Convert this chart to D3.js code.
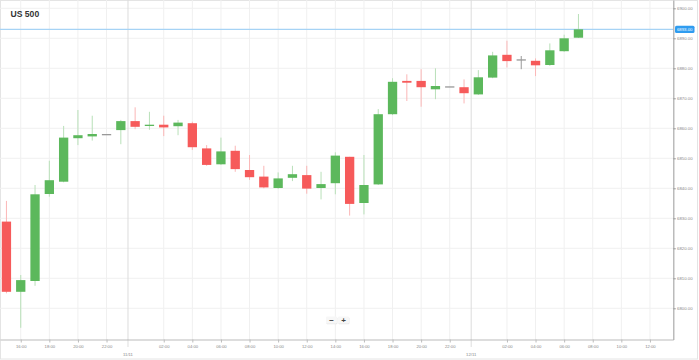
<!DOCTYPE html>
<html><head><meta charset="utf-8">
<script src="https://cdn.jsdelivr.net/npm/d3@7"></script>
<style>
html,body{margin:0;padding:0;background:#fff;}
svg{display:block;font-family:"Liberation Sans",Arial,sans-serif;}
</style></head><body>
<svg id="c" width="699" height="360"></svg>
<script>
const title = "US 500";
const times = [
 "2025-11-10T15:00","2025-11-10T16:00","2025-11-10T17:00","2025-11-10T18:00","2025-11-10T19:00",
 "2025-11-10T20:00","2025-11-10T21:00","2025-11-10T22:00","2025-11-10T23:00",
 "2025-11-11T00:00","2025-11-11T01:00","2025-11-11T02:00","2025-11-11T03:00","2025-11-11T04:00",
 "2025-11-11T05:00","2025-11-11T06:00","2025-11-11T07:00","2025-11-11T08:00","2025-11-11T09:00",
 "2025-11-11T10:00","2025-11-11T11:00","2025-11-11T12:00","2025-11-11T13:00","2025-11-11T14:00",
 "2025-11-11T15:00","2025-11-11T16:00","2025-11-11T17:00","2025-11-11T18:00","2025-11-11T19:00",
 "2025-11-11T20:00","2025-11-11T21:00","2025-11-11T22:00","2025-11-11T23:00",
 "2025-11-12T00:00","2025-11-12T01:00","2025-11-12T02:00","2025-11-12T03:00","2025-11-12T04:00",
 "2025-11-12T05:00","2025-11-12T06:00","2025-11-12T07:00"
];
const open  = [6828.9,6805.5,6809.1,6838.1,6842.2,6856.7,6857.3,6858.1,6859.4,
               6862.4,6860.8,6861.2,6860.7,6861.7,6853.3,6848.0,6852.5,6846.1,6843.9,6840.1,6843.5,6844.4,6840.1,6841.7,
               6850.5,6835.1,6841.3,6864.7,6875.8,6875.8,6873.0,6874.0,6873.7,
               6871.3,6876.9,6884.5,6883.0,6882.5,6881.1,6885.7,6890.2];
const high  = [6835.8,6811.1,6841.1,6849.2,6860.8,6866.1,6864.2,6858.1,6862.8,
               6867.0,6865.5,6864.2,6862.8,6862.2,6854.4,6856.9,6854.2,6851.1,6847.5,6845.3,6847.5,6847.5,6845.5,6852.0,
               6850.5,6851.1,6866.4,6876.7,6878.0,6879.7,6880.0,6874.0,6876.3,
               6879.4,6885.5,6889.2,6884.1,6883.3,6888.3,6891.2,6898.1];
const low   = [6805.0,6793.5,6807.5,6837.2,6842.0,6854.4,6855.9,6858.1,6854.7,
               6859.7,6859.5,6857.4,6857.7,6852.8,6847.5,6847.8,6845.5,6842.8,6840.0,6839.8,6842.4,6838.2,6836.3,6838.0,
               6830.9,6831.3,6841.1,6864.4,6869.1,6867.2,6869.7,6874.0,6868.3,
               6871.1,6876.7,6880.3,6879.7,6877.4,6880.8,6885.5,6890.1];
const close = [6805.5,6809.4,6838.0,6842.7,6856.9,6857.7,6858.1,6858.1,6862.4,
               6860.5,6861.2,6860.3,6861.9,6853.7,6847.8,6852.3,6846.4,6843.7,6840.3,6843.3,6844.7,6839.9,6841.4,6850.9,
               6834.8,6841.1,6864.7,6875.5,6875.2,6873.7,6874.1,6874.0,6871.7,
               6877.0,6884.3,6882.4,6883.0,6881.0,6886.0,6890.0,6893.0];
const xTicks = ["2025-11-10T16:00","2025-11-10T18:00","2025-11-10T20:00","2025-11-10T22:00",
 "2025-11-11T02:00","2025-11-11T04:00","2025-11-11T06:00","2025-11-11T08:00","2025-11-11T10:00","2025-11-11T12:00","2025-11-11T14:00",
 "2025-11-11T16:00","2025-11-11T18:00","2025-11-11T20:00","2025-11-11T22:00",
 "2025-11-12T02:00","2025-11-12T04:00","2025-11-12T06:00","2025-11-12T08:00","2025-11-12T10:00","2025-11-12T12:00"];
const dayDividers = ["2025-11-10T23:30","2025-11-11T23:30"];
const dayLabels = ["11/11","12/11"];
const yTicks = [6800,6810,6820,6830,6840,6850,6860,6870,6880,6890,6900];
const lastPrice = 6893.0;
const xDomain = ["2025-11-10T14:33","2025-11-12T13:38"];
const yDomain = [6789.6, 6902.77];

const parse = d3.timeParse("%Y-%m-%dT%H:%M");
const svg = d3.select("#c");
const W = 699, H = 360;
const plotR = 673.3, plotB = 339.5;

const x = d3.scaleTime().domain(xDomain.map(parse)).range([0, plotR]);
const y = d3.scaleLinear().domain(yDomain).range([plotB, 0]);

// frame
svg.append("rect").attr("x",0.5).attr("y",0.5).attr("width",697).attr("height",358.5)
  .attr("fill","#fff").attr("stroke","#e4e4e4");

// grid
const g = svg.append("g");
g.selectAll("line.vg").data(xTicks.map(parse)).join("line")
  .attr("x1",d=>x(d)).attr("x2",d=>x(d)).attr("y1",0).attr("y2",plotB)
  .attr("stroke","#f0f0f0").attr("stroke-width",1);
g.selectAll("line.hg").data(yTicks).join("line")
  .attr("x1",0).attr("x2",plotR).attr("y1",d=>y(d)).attr("y2",d=>y(d))
  .attr("stroke","#f0f0f0").attr("stroke-width",1);
g.selectAll("line.dd").data(dayDividers.map(parse)).join("line")
  .attr("x1",d=>x(d)).attr("x2",d=>x(d)).attr("y1",0).attr("y2",plotB)
  .attr("stroke","#dcdcdc").attr("stroke-width",1);

// current price line
svg.append("line").attr("x1",0).attr("x2",plotR).attr("y1",y(lastPrice)).attr("y2",y(lastPrice))
  .attr("stroke","#a6d3f5").attr("stroke-width",1.2);

// candles
const data = times.map((t,i)=>({t:parse(t),o:open[i],h:high[i],l:low[i],c:close[i]}));
const bw = 9.3;
const col = d => d.c > d.o ? "#5cb85c" : (d.c < d.o ? "#f65a5a" : "#999");
const wcol = d => d.c > d.o ? "#b8e0b8" : (d.c < d.o ? "#fbb6b6" : "#999");
const cg = svg.append("g");
cg.selectAll("line.w").data(data).join("line")
  .attr("x1",d=>x(d.t)).attr("x2",d=>x(d.t)).attr("y1",d=>y(d.h)).attr("y2",d=>y(d.l))
  .attr("stroke",wcol).attr("stroke-width",1);
cg.selectAll("rect.b").data(data).join("rect")
  .attr("x",d=>x(d.t)-bw/2).attr("width",bw)
  .attr("y",d=>y(Math.max(d.o,d.c)))
  .attr("height",d=>Math.max(1.3, Math.abs(y(d.o)-y(d.c))))
  .attr("fill",col).attr("stroke",d=>d.c===d.o?"none":col).attr("stroke-opacity",0.6).attr("stroke-width",0.6);

// x axis
const xa = svg.append("g").attr("transform",`translate(0,${plotB})`)
  .call(d3.axisBottom(x).tickValues(xTicks.map(parse)).tickFormat(d3.timeFormat("%H:%M")).tickSize(3).tickSizeOuter(0).tickPadding(2.5));
xa.select(".domain").attr("stroke","#bbb");
xa.selectAll(".tick line").attr("stroke","#bbb");
xa.selectAll("text").attr("font-size",4.2).attr("fill","#888").attr("font-family","'Liberation Sans',Arial,sans-serif");
// day labels
const dl = svg.append("g");
dayDividers.forEach((d,i)=>{
  const px = x(parse(d));
  dl.append("line").attr("x1",px).attr("x2",px).attr("y1",plotB).attr("y2",plotB+8)
    .attr("stroke","#bbb").attr("stroke-dasharray","1,1");
  dl.append("text").attr("x",px).attr("y",plotB+16).attr("text-anchor","middle")
    .attr("font-size",4.2).attr("fill","#888").text(dayLabels[i]);
});

// y axis
const ya = svg.append("g").attr("transform",`translate(${plotR},0)`)
  .call(d3.axisRight(y).tickValues(yTicks).tickFormat(d3.format(".2f")).tickSize(2.5).tickSizeOuter(0).tickPadding(1.2));
ya.select(".domain").attr("stroke","#aaa").attr("stroke-width",1.2);
ya.selectAll(".tick line").attr("stroke","#999");
ya.selectAll("text").attr("font-size",4.3).attr("fill","#888").attr("font-family","'Liberation Sans',Arial,sans-serif");

// price label
const py = y(lastPrice);
svg.append("rect").attr("x",675).attr("y",py-3.6).attr("width",19.5).attr("height",7.2).attr("rx",1.5)
  .attr("fill","#2f9cf0");
svg.append("text").attr("x",684.7).attr("y",py+1.5).attr("text-anchor","middle")
  .attr("font-size",4.3).attr("fill","#fff").text(d3.format(".2f")(lastPrice));

// title
svg.append("text").attr("x",10.5).attr("y",16.5).attr("font-size",8.6).attr("font-weight","bold")
  .attr("fill","#333").text(title);

// zoom buttons
const zb = svg.append("g");
[["−",326],["+",338]].forEach(([t,bx])=>{
  zb.append("rect").attr("x",bx+0.4).attr("y",317.2).attr("width",11).attr("height",7).attr("rx",1).attr("fill","#e6e6e6");
  zb.append("rect").attr("x",bx).attr("y",316.6).attr("width",11).attr("height",7).attr("rx",1).attr("fill","#f7f7f7");
  zb.append("text").attr("x",bx+5.5).attr("y",322.6).attr("text-anchor","middle").attr("font-size",8)
    .attr("font-weight","bold").attr("fill","#444").text(t);
});
</script>
</body></html>
